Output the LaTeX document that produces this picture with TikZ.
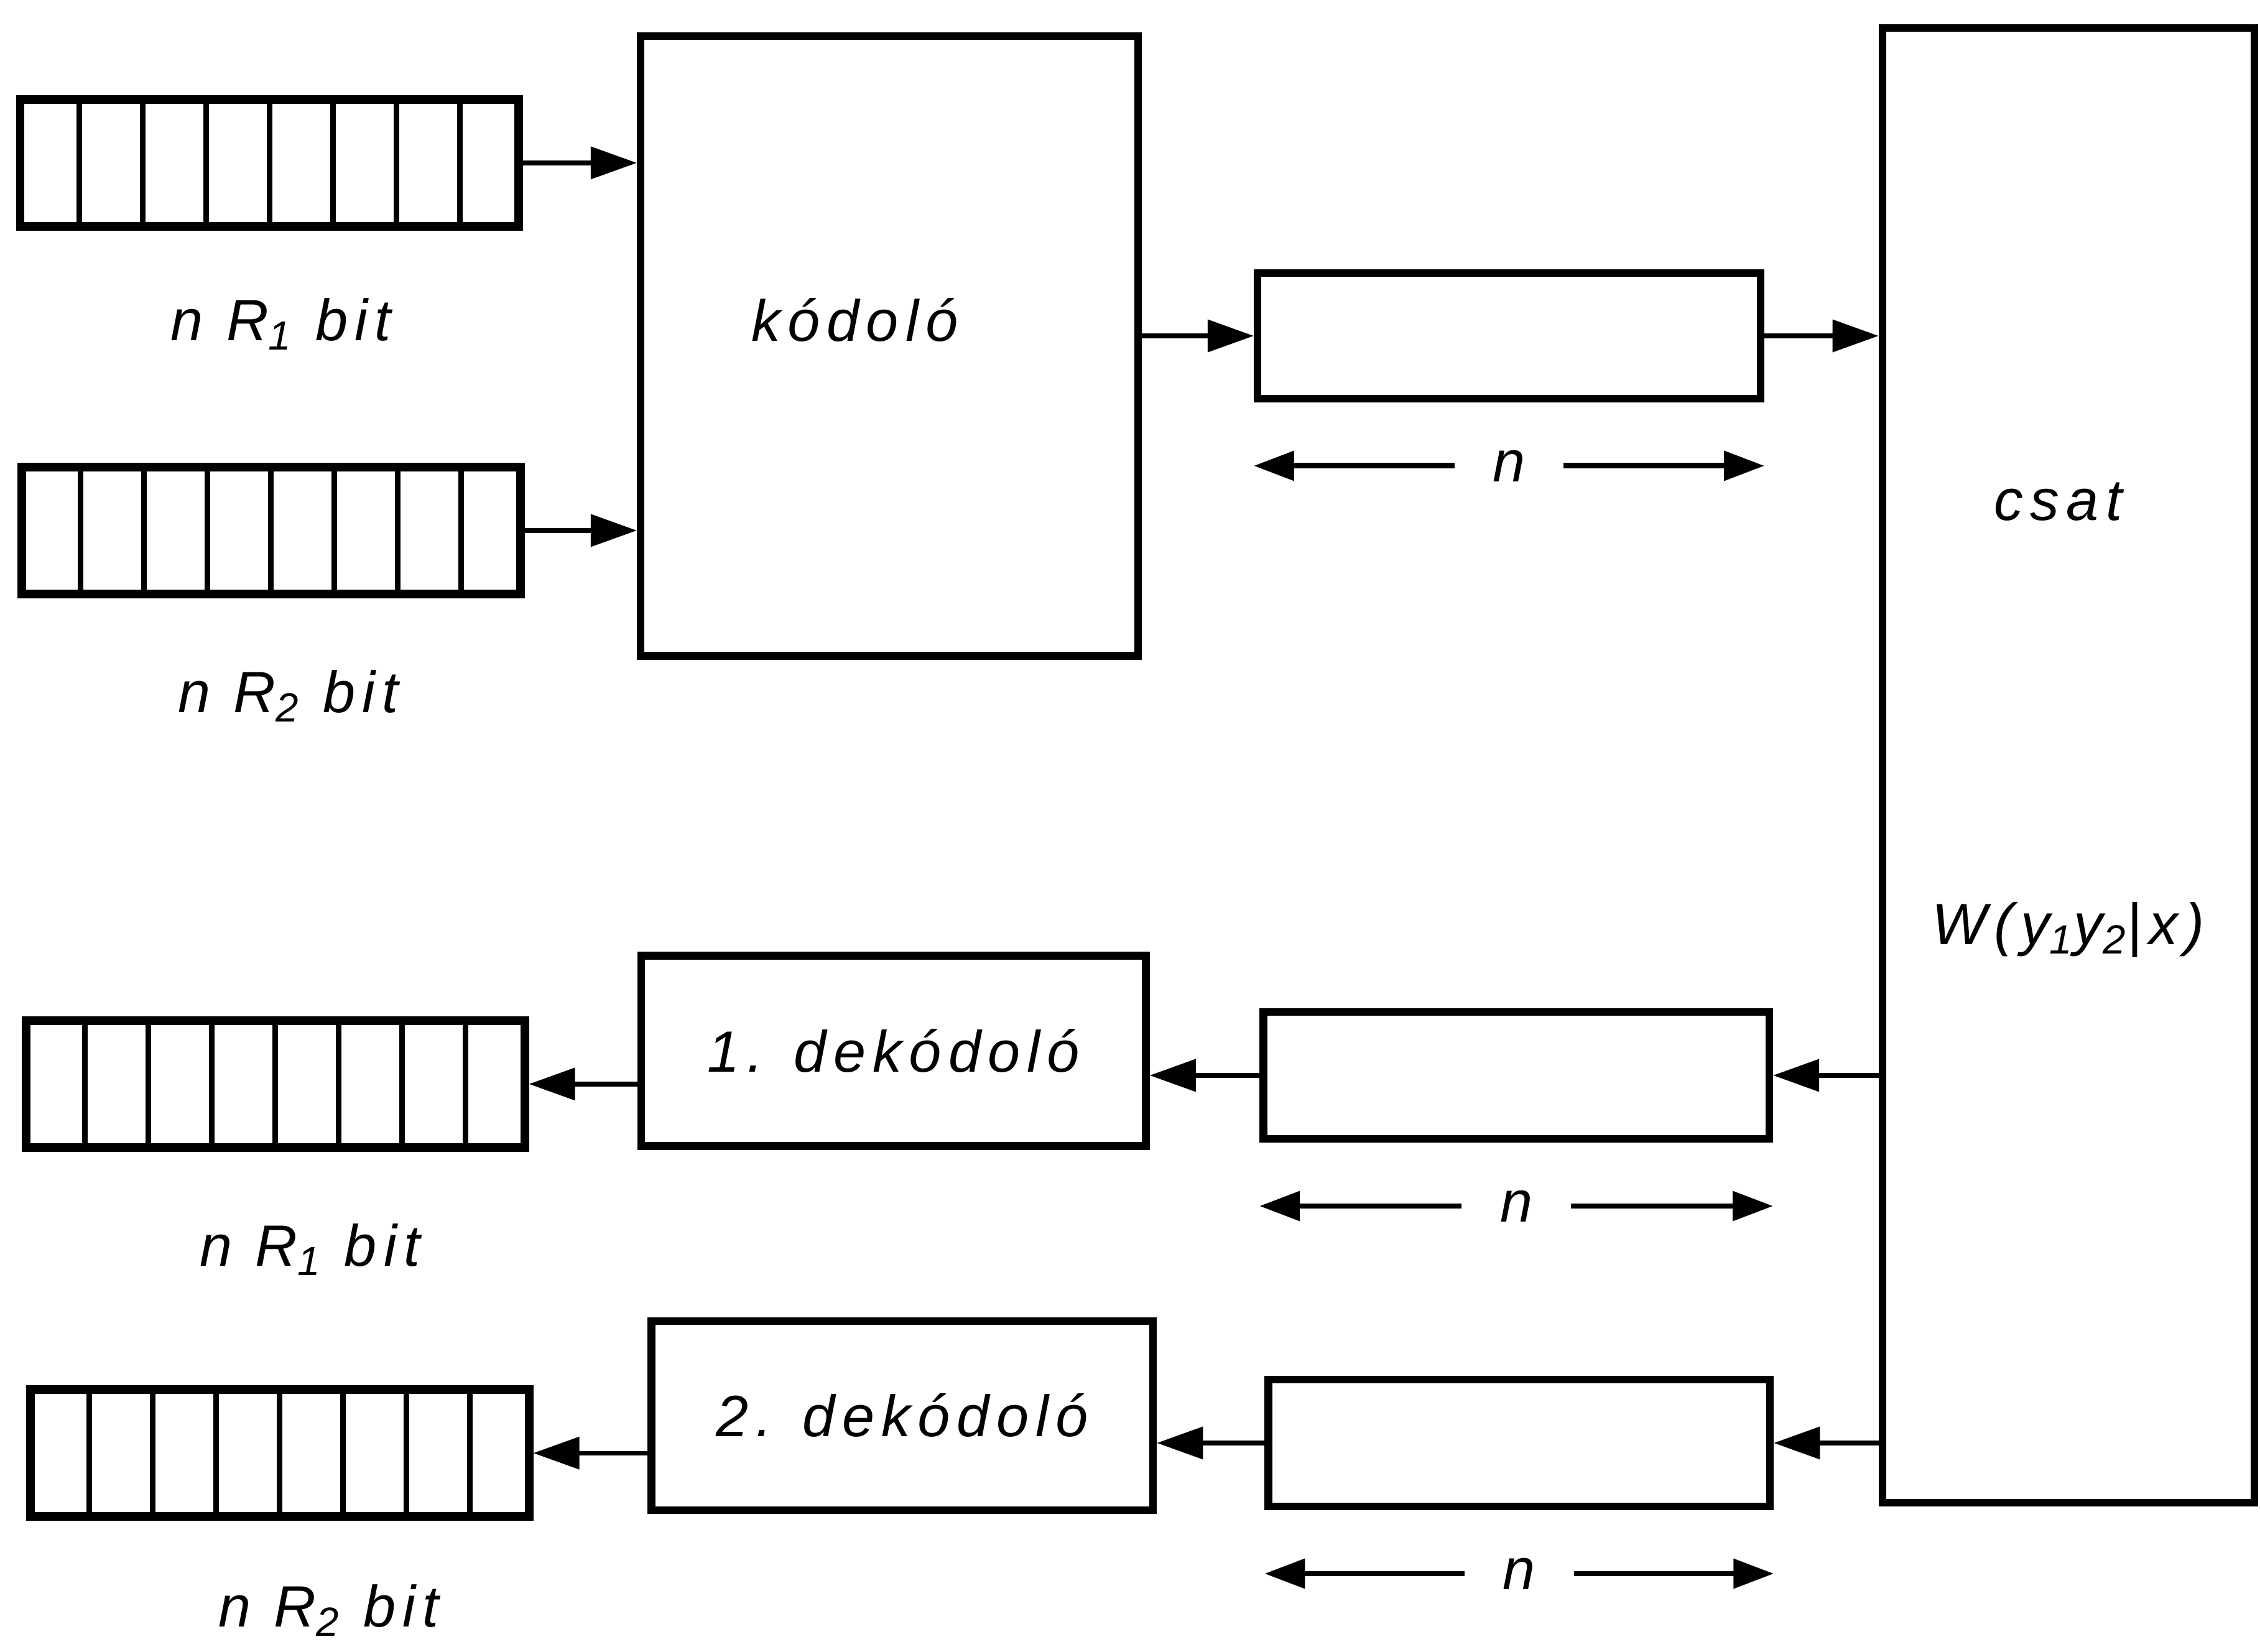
\documentclass[tikz,border=0pt]{standalone}
\usepackage{fontspec}
\setmainfont{Liberation Sans}[LetterSpace=12]
\usetikzlibrary{arrows.meta,calc}

\tikzset{
	reg/.style={draw,line width=3.4pt,minimum width=69.2mm,minimum height=17.6mm},
	blk/.style={draw,line width=3pt},
	arr/.style={line width=1.8pt,-{Triangle[length=6.4mm,width=4.4mm]}},
	dimarr/.style={line width=2.2pt,-{Triangle[length=5.6mm,width=4mm]}}
}

\begin{document}
\begin{tikzpicture}[x=0.2mm,y=-0.2mm,every node/.style={font=\fontsize{23}{27}\selectfont\itshape}]
		\useasboundingbox (0,0) rectangle (1568,1146);
		% registers
		\node[reg] (in1) at (187,113) {};
		\node[reg] (in2) at (188,368) {};
		\node[reg] (out1) at (191,752) {};
		\node[reg] (out2) at (194,1008) {};
		\foreach \r in {in1,in2,out1,out2}
			\foreach \i in {1,...,7}
				\draw[line width=2.2pt] ($(\r.north west)!\i/8!(\r.north east)$) -- ($(\r.south west)!\i/8!(\r.south east)$);
		\node (lin1) at ($(in1.south)+(8,65)$) {n R\textsubscript{1} bit};
		\node (lin2) at ($(in2.south)+(12,68)$) {n R\textsubscript{2} bit};
		\node (lout1) at ($(out1.south)+(24,68)$) {n R\textsubscript{1} bit};
		\node (lout2) at ($(out2.south)+(34,62)$) {n R\textsubscript{2} bit};
		% blocks
		\node[blk,minimum width=69mm,minimum height=86mm] (kod) at (617,240) {};
		\node (kodl) at (593,222) {kódoló};
		\node[blk,minimum width=51.6mm,minimum height=204.6mm] (csat) at (1435,531) {};
		\node (csatl) at (1428,348) {csat};
		\node (wl) at (1435,645) {W(y\textsubscript{1}y\textsubscript{2}|x)};
		\node[blk,minimum width=70mm,minimum height=26.4mm] (d1) at (620,729) {1. dekódoló};
		\node[blk,minimum width=69.6mm,minimum height=26.2mm] (d2) at (626,982) {2. dekódoló};
		\node[blk,minimum width=69.8mm,minimum height=17.4mm] (s1) at (1047,233) {};
		\node[blk,minimum width=70.2mm,minimum height=17.6mm] (s2) at (1052,746) {};
		\node[blk,minimum width=69.6mm,minimum height=17.6mm] (s3) at (1054,1001) {};
		% connectors
		\draw[arr] (in1.east) -- (in1.east -| kod.west);
		\draw[arr] (in2.east) -- (in2.east -| kod.west);
		\draw[arr] (kod.east |- s1.west) -- (s1.west);
		\draw[arr] (s1.east) -- (s1.east -| csat.west);
		\draw[arr] (csat.west |- s2.east) -- (s2.east);
		\draw[arr] (s2.west) -- (s2.west -| d1.east);
		\draw[arr] (out1.east -| d1.west) -- (out1.east);
		\draw[arr] (csat.west |- s3.east) -- (s3.east);
		\draw[arr] (s3.west) -- (s3.west -| d2.east);
		\draw[arr] (out2.east -| d2.west) -- (out2.east);
		% block length n
		\foreach \s in {s1,s2,s3}{
			\node[minimum width=15mm] (n\s) at ($(\s.south)+(0,44)$) {n};
			\draw[dimarr] (n\s) -- (n\s -| \s.west);
			\draw[dimarr] (n\s) -- (n\s -| \s.east);
		}
	\end{tikzpicture}
\end{document}
